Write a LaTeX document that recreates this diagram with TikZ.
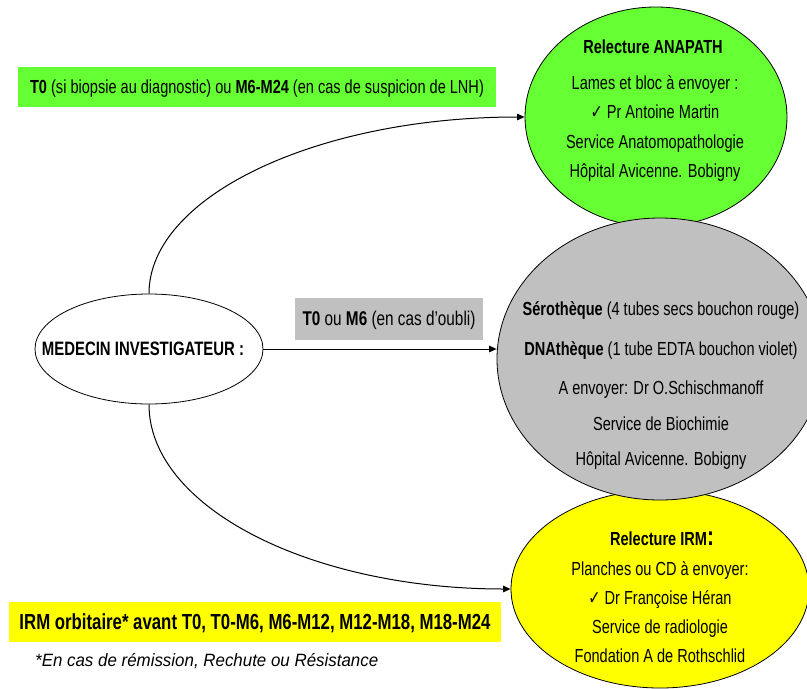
\documentclass[tikz,border=0pt]{standalone}
\usepackage{fontspec}
\setmainfont{Liberation Sans}[FakeStretch=0.77]
\newfontfamily\symfont{DejaVu Sans}[FakeStretch=0.77]
\newfontfamily\footfont{Liberation Sans}[FakeStretch=0.95]
\usetikzlibrary{shapes.geometric,arrows.meta}
\definecolor{ggreen}{RGB}{102,255,51}
\definecolor{ggray}{RGB}{192,192,192}
\definecolor{yyellow}{RGB}{255,255,0}
\begin{document}
\begin{tikzpicture}[x=1pt,y=-1pt,
  bubble/.style={ellipse,draw=black,line width=0.8pt,inner sep=0pt},
  txt/.style={inner sep=0pt,anchor=base,font=\fontsize{18.9}{20}\selectfont},
  lbl/.style={inner sep=0pt,text height=13.5pt,text depth=0pt,font=\fontsize{18.9}{20}\selectfont},
  arr/.style={line width=1pt,-{Triangle[length=7.5pt,width=6.5pt]}}]
\clip (0,0) rectangle (807,689);
% bubbles
\node[bubble,fill=ggreen,minimum width=262pt,minimum height=220pt] (green) at (656,117) {};
\node[bubble,fill=yyellow,minimum width=298pt,minimum height=198pt] (yel) at (660,589) {};
\node[bubble,fill=ggray,minimum width=326pt,minimum height=282pt] (gray) at (660,359) {};
\node[bubble,fill=white,minimum width=228pt,minimum height=110pt] (lead) at (149,349) {};
% connectors
\draw[arr] (lead.north) .. controls +(0,-97) and +(-208,0) .. (green.west);
\draw[arr] (lead.east) -- (lead.east -| gray.west);
\draw[arr] (lead.south) .. controls +(0,103) and +(-200,0) .. (yel.west);
% lead text
\node[txt,font=\bfseries\fontsize{19.4}{20}\selectfont] (leadtxt) at (143,355) {MEDECIN INVESTIGATEUR :};
% green text
\node[txt] (g1) at (653,53.5) {\bfseries Relecture ANAPATH};
\node[txt] (g2) at (655,89) {Lames et bloc à envoyer :};
\node[txt] (g3) at (655,118.5) {{\symfont ✓} Pr Antoine Martin};
\node[txt] (g4) at (655,148) {Service Anatomopathologie};
\node[txt] (g5) at (655,177.5) {Hôpital Avicenne. Bobigny};
% gray text
\node[txt] (s1) at (661,315) {\textbf{Sérothèque} (4 tubes secs bouchon rouge)};
\node[txt] (s2) at (661,355) {\textbf{DNAthèque} (1 tube EDTA bouchon violet)};
\node[txt] (s3) at (661,394) {A envoyer: Dr O.Schischmanoff};
\node[txt] (s4) at (661,430) {Service de Biochimie};
\node[txt] (s5) at (661,465) {Hôpital Avicenne. Bobigny};
% yellow text
\node[txt] (y1) at (662,545) {\bfseries Relecture IRM{\fontsize{27}{27}\selectfont:}};
\node[txt] (y2) at (660,575) {Planches ou CD à envoyer:};
\node[txt] (y3) at (660,604) {{\symfont ✓} Dr Françoise Héran};
\node[txt] (y4) at (660,633) {Service de radiologie};
\node[txt] (y5) at (660,662) {Fondation A de Rothschlid};
% labels
\node[lbl,fill=ggreen,minimum width=478pt,minimum height=40pt] (l1) at (257,87) {\textbf{T0} (si biopsie au diagnostic) ou \textbf{M6-M24} (en cas de suspicion de LNH)};
\node[lbl,fill=ggray,minimum width=188pt,minimum height=42pt,font=\fontsize{19.9}{20}\selectfont] (l2) at (389,319) {\textbf{T0} ou \textbf{M6} (en cas d’oubli)};
\node[lbl,fill=yyellow,minimum width=492pt,minimum height=40pt,text height=15pt,font=\bfseries\fontsize{21.8}{22}\selectfont] (l3) at (255,622) {IRM orbitaire* avant T0, T0-M6, M6-M12, M12-M18, M18-M24};
\node[txt,anchor=base west,font=\footfont\itshape\fontsize{17.8}{20}\selectfont] (fn) at (35,666) {*En cas de rémission, Rechute ou Résistance};
\end{tikzpicture}
\end{document}
